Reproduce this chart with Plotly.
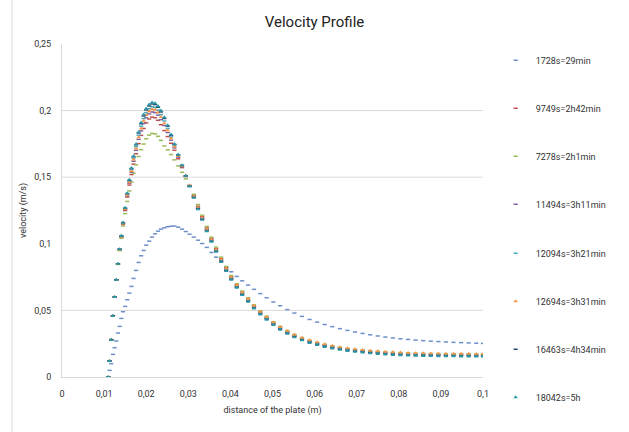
import plotly.graph_objects as go

distance = [0.0110, 0.0113, 0.0117, 0.0121, 0.0125, 0.0129, 0.0133, 0.0137, 0.0141, 0.0145,
            0.0150, 0.0155, 0.0160, 0.0165, 0.0170, 0.0176, 0.0182, 0.0188, 0.0194, 0.0200,
            0.0207, 0.0214, 0.0221, 0.0228, 0.0235, 0.0243, 0.0251, 0.0259, 0.0267, 0.0276,
            0.0285, 0.0294, 0.0303, 0.0313, 0.0323, 0.0333, 0.0344, 0.0355, 0.0366, 0.0378,
            0.0390, 0.0402, 0.0415, 0.0428, 0.0442, 0.0456, 0.0471, 0.0486, 0.0502, 0.0518,
            0.0535, 0.0552, 0.0570, 0.0588, 0.0606, 0.0624, 0.0642, 0.0660, 0.0678, 0.0696,
            0.0714, 0.0732, 0.0750, 0.0768, 0.0786, 0.0804, 0.0822, 0.0840, 0.0858, 0.0876,
            0.0894, 0.0912, 0.0930, 0.0948, 0.0966, 0.0984, 0.1000]

v_1728 = [0.000, 0.005, 0.010, 0.017, 0.022, 0.027, 0.033, 0.038, 0.044, 0.049,
          0.053, 0.058, 0.063, 0.068, 0.074, 0.080, 0.086, 0.091, 0.095, 0.099,
          0.102, 0.105, 0.1075, 0.1095, 0.111, 0.112, 0.1128, 0.1132, 0.1133, 0.1125,
          0.1110, 0.1092, 0.1072, 0.1050, 0.1027, 0.1002, 0.0973, 0.0935, 0.0900, 0.0862,
          0.0825, 0.0790, 0.0755, 0.0722, 0.0690, 0.0658, 0.0626, 0.0595, 0.0563, 0.0535,
          0.0506, 0.0480, 0.0455, 0.0432, 0.0412, 0.0394, 0.0378, 0.0363, 0.0350, 0.0338,
          0.0327, 0.0317, 0.0308, 0.0300, 0.0293, 0.0287, 0.0282, 0.0277, 0.0273, 0.0269,
          0.0266, 0.0263, 0.0260, 0.0258, 0.0256, 0.0254, 0.0252]

v_9749 = [0.000, 0.012, 0.028, 0.046, 0.060, 0.073, 0.0848, 0.0955, 0.1052, 0.1148,
          0.1250, 0.1351, 0.1441, 0.1520, 0.1598, 0.1676, 0.1752, 0.1814, 0.1866, 0.1908,
          0.1937, 0.1951, 0.1946, 0.1927, 0.1894, 0.1850, 0.1805, 0.1755, 0.1702, 0.1638,
          0.1572, 0.1505, 0.1438, 0.1363, 0.1282, 0.1204, 0.1119, 0.1039, 0.0964, 0.0889,
          0.0819, 0.0752, 0.0692, 0.0637, 0.0585, 0.0535, 0.0490, 0.0448, 0.0408, 0.0373,
          0.0342, 0.0314, 0.0291, 0.0272, 0.0256, 0.0242, 0.0230, 0.0220, 0.0212, 0.0205,
          0.0199, 0.0194, 0.0189, 0.0185, 0.0182, 0.0179, 0.0177, 0.0175, 0.0174, 0.0173,
          0.0172, 0.0171, 0.0171, 0.0170, 0.0170, 0.0169, 0.0169]

v_7278 = [0.000, 0.012, 0.028, 0.046, 0.060, 0.073, 0.0845, 0.0949, 0.1042, 0.1134,
          0.1227, 0.1318, 0.1397, 0.1464, 0.1530, 0.1593, 0.1655, 0.1707, 0.1749, 0.1789,
          0.1816, 0.1829, 0.1825, 0.1807, 0.1776, 0.1735, 0.1705, 0.1670, 0.1630, 0.1585,
          0.1537, 0.1487, 0.1437, 0.1372, 0.1295, 0.1215, 0.1130, 0.1050, 0.0975, 0.0900,
          0.0830, 0.0762, 0.0700, 0.0645, 0.0595, 0.0542, 0.0497, 0.0456, 0.0415, 0.0380,
          0.0349, 0.0320, 0.0296, 0.0276, 0.0260, 0.0246, 0.0234, 0.0224, 0.0216, 0.0209,
          0.0203, 0.0198, 0.0193, 0.0189, 0.0186, 0.0183, 0.0181, 0.0179, 0.0178, 0.0177,
          0.0176, 0.0175, 0.0175, 0.0174, 0.0174, 0.0173, 0.0173]

v_11494 = [0.000, 0.012, 0.028, 0.046, 0.060, 0.073, 0.0849, 0.0957, 0.1055, 0.1152,
           0.1257, 0.1361, 0.1455, 0.1538, 0.1620, 0.1702, 0.1784, 0.1848, 0.1903, 0.1946,
           0.1975, 0.1990, 0.1985, 0.1966, 0.1932, 0.1888, 0.1835, 0.1778, 0.1720, 0.1650,
           0.1580, 0.1508, 0.1436, 0.1357, 0.1275, 0.1196, 0.1111, 0.1031, 0.0956, 0.0881,
           0.0811, 0.0745, 0.0685, 0.0630, 0.0579, 0.0529, 0.0484, 0.0443, 0.0403, 0.0368,
           0.0337, 0.0310, 0.0287, 0.0268, 0.0252, 0.0238, 0.0226, 0.0216, 0.0208, 0.0201,
           0.0195, 0.0190, 0.0185, 0.0181, 0.0178, 0.0175, 0.0173, 0.0171, 0.0170, 0.0169,
           0.0168, 0.0167, 0.0167, 0.0166, 0.0166, 0.0165, 0.0165]

v_12094 = [0.000, 0.012, 0.028, 0.046, 0.060, 0.073, 0.0849, 0.0959, 0.1058, 0.1157,
           0.1264, 0.1372, 0.1469, 0.1556, 0.1643, 0.1729, 0.1815, 0.1883, 0.1940, 0.1985,
           0.2014, 0.2029, 0.2024, 0.2004, 0.1970, 0.1922, 0.1866, 0.1802, 0.1738, 0.1663,
           0.1587, 0.1510, 0.1434, 0.1352, 0.1269, 0.1189, 0.1104, 0.1024, 0.0949, 0.0874,
           0.0804, 0.0739, 0.0679, 0.0624, 0.0574, 0.0524, 0.0479, 0.0439, 0.0399, 0.0364,
           0.0333, 0.0306, 0.0283, 0.0264, 0.0248, 0.0234, 0.0222, 0.0212, 0.0204, 0.0197,
           0.0191, 0.0186, 0.0181, 0.0177, 0.0174, 0.0171, 0.0169, 0.0167, 0.0166, 0.0165,
           0.0164, 0.0163, 0.0163, 0.0162, 0.0162, 0.0161, 0.0161]

v_12694 = [0.000, 0.012, 0.028, 0.046, 0.060, 0.073, 0.0849, 0.0958, 0.1056, 0.1154,
           0.1261, 0.1367, 0.1462, 0.1547, 0.1632, 0.1716, 0.1800, 0.1866, 0.1923, 0.1967,
           0.1996, 0.2011, 0.2006, 0.1986, 0.1952, 0.1905, 0.1852, 0.1792, 0.1731, 0.1659,
           0.1586, 0.1512, 0.1438, 0.1357, 0.1274, 0.1195, 0.1111, 0.1032, 0.0958, 0.0883,
           0.0814, 0.0749, 0.0689, 0.0635, 0.0585, 0.0535, 0.0490, 0.0450, 0.0410, 0.0375,
           0.0345, 0.0318, 0.0295, 0.0276, 0.0260, 0.0246, 0.0234, 0.0224, 0.0216, 0.0209,
           0.0203, 0.0198, 0.0193, 0.0189, 0.0186, 0.0183, 0.0181, 0.0179, 0.0178, 0.0177,
           0.0176, 0.0175, 0.0175, 0.0174, 0.0174, 0.0173, 0.0173]

v_16463 = [0.000, 0.012, 0.028, 0.046, 0.060, 0.073, 0.0850, 0.0960, 0.1059, 0.1159,
           0.1268, 0.1377, 0.1476, 0.1565, 0.1654, 0.1743, 0.1832, 0.1901, 0.1960, 0.2005,
           0.2035, 0.2050, 0.2045, 0.2025, 0.1990, 0.1941, 0.1883, 0.1814, 0.1746, 0.1668,
           0.1589, 0.1510, 0.1432, 0.1348, 0.1264, 0.1184, 0.1099, 0.1019, 0.0944, 0.0869,
           0.0799, 0.0734, 0.0674, 0.0619, 0.0569, 0.0519, 0.0474, 0.0434, 0.0394, 0.0359,
           0.0329, 0.0302, 0.0279, 0.0260, 0.0244, 0.0230, 0.0218, 0.0208, 0.0200, 0.0193,
           0.0187, 0.0182, 0.0177, 0.0173, 0.0170, 0.0167, 0.0165, 0.0163, 0.0162, 0.0161,
           0.0160, 0.0159, 0.0159, 0.0158, 0.0158, 0.0157, 0.0157]

v_18042 = [0.000, 0.012, 0.028, 0.046, 0.060, 0.073, 0.085, 0.096, 0.106, 0.116,
           0.127, 0.138, 0.148, 0.157, 0.166, 0.175, 0.184, 0.191, 0.197, 0.2015,
           0.2045, 0.206, 0.2055, 0.2035, 0.200, 0.195, 0.189, 0.182, 0.175, 0.167,
           0.159, 0.151, 0.143, 0.1345, 0.126, 0.118, 0.1095, 0.1015, 0.094, 0.0865,
           0.0795, 0.073, 0.067, 0.0615, 0.0565, 0.0515, 0.047, 0.043, 0.039, 0.0355,
           0.0325, 0.0298, 0.0275, 0.0256, 0.0240, 0.0226, 0.0214, 0.0204, 0.0196, 0.0189,
           0.0183, 0.0178, 0.0173, 0.0169, 0.0166, 0.0163, 0.0161, 0.0159, 0.0158, 0.0157,
           0.0156, 0.0155, 0.0155, 0.0154, 0.0154, 0.0153, 0.0153]

series_names = ["1728s=29min", "9749s=2h42min", "7278s=2h1min", "11494s=3h11min",
                "12094s=3h21min", "12694s=3h31min", "16463s=4h34min", "18042s=5h"]
series_values = [v_1728, v_9749, v_7278, v_11494, v_12094, v_12694, v_16463, v_18042]
series_colors = ["#6F8FCB", "#C0504D", "#9BBB59", "#8064A2", "#4BACC6", "#F79646", "#2C4D75", "#2A9AA6"]
series_symbols = ["line-ew", "line-ew", "line-ew", "line-ew", "line-ew", "triangle-up", "line-ew", "triangle-up"]

grid_values = [0.05, 0.15, 0.2]

FONT = "Liberation Sans Narrow, Roboto, Arial, sans-serif"

fig = go.Figure()
for i, (name, ys, col, sym) in enumerate(zip(series_names, series_values, series_colors, series_symbols)):
    if sym == "line-ew":
        marker = dict(symbol=sym, size=3, color=col, line=dict(color=col, width=1.5))
    else:
        marker = dict(symbol=sym, size=4, color=col, line=dict(width=0))
    fig.add_trace(go.Scatter(x=distance, y=ys, mode="markers", name=name,
                             marker=marker, legendgroup=f"g{i}",
                             legend="legend" if i < 4 else "legend2"))

shapes = []
for g in grid_values:
    shapes.append(dict(type="line", xref="paper", x0=0, x1=1, yref="y", y0=g, y1=g,
                       line=dict(color="#D9D9D9", width=1), layer="below"))
shapes.append(dict(type="line", xref="paper", x0=-0.1188, x1=-0.1188, yref="paper", y0=-0.2, y1=1.2,
                   line=dict(color="#D9D9D9", width=1), layer="below"))

legend_style = dict(xanchor="left", yanchor="top", tracegroupgap=29,
                    font=dict(size=9, color="#333333"), bgcolor="rgba(0,0,0,0)", itemwidth=30)

fig.update_layout(
    width=629, height=432,
    margin=dict(l=62, r=146, t=44, b=55, autoexpand=False),
    paper_bgcolor="white", plot_bgcolor="white",
    separators=", ",
    font=dict(family=FONT, size=9, color="#333333"),
    title=dict(text="Velocity Profile", x=0.5, xref="container", y=1 - 22 / 432, yref="container",
               yanchor="middle", xanchor="center",
               font=dict(family=FONT, size=15, color="#222222")),
    xaxis=dict(range=[0, 0.1], dtick=0.01, tick0=0, showgrid=False, zeroline=False,
               showline=True, linecolor="#D9D9D9", linewidth=1,
               ticks="outside", ticklen=8, tickcolor="rgba(0,0,0,0)",
               tickfont=dict(size=9, color="#333333"),
               title=dict(text="distance of the plate (m)", font=dict(size=9, color="#333333"), standoff=8)),
    yaxis=dict(range=[0, 0.25], dtick=0.05, tick0=0, showgrid=False, zeroline=False,
               showline=True, linecolor="#D9D9D9", linewidth=1,
               ticks="outside", ticklen=8, tickcolor="rgba(0,0,0,0)",
               tickfont=dict(size=9, color="#333333"),
               title=dict(text="velocity (m/s)", font=dict(size=9, color="#333333"), standoff=6)),
    legend=dict(x=1.03, y=0.995, **legend_style),
    legend2=dict(x=1.03, y=0.415, **legend_style),
    shapes=shapes,
    showlegend=True,
)

fig.write_html("out.html")
